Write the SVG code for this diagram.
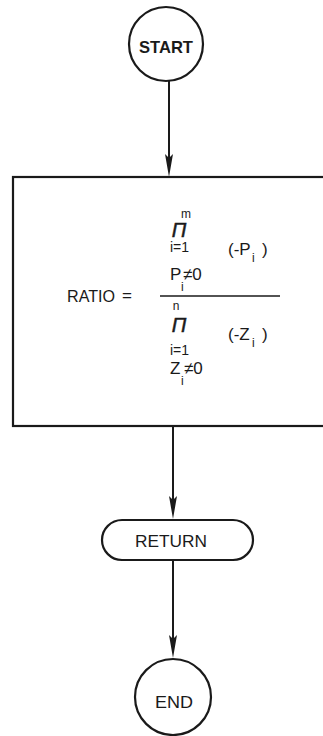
<svg xmlns="http://www.w3.org/2000/svg" width="323" height="736" viewBox="0 0 323 736">
<style>
.shape{fill:#fff;stroke:#1a1a1a;stroke-width:2.2}
.conn{fill:none;stroke:#1a1a1a;stroke-width:2}
.head{fill:#1a1a1a;stroke:none}
text{font-family:"Liberation Sans","DejaVu Sans",sans-serif;fill:#1a1a1a}
.lbl{font-size:17px;text-anchor:middle}
.f{font-size:17px}
.lim{font-size:14px}
.s{font-size:12px}
.pi{font-size:20px;font-style:italic}
</style>
<rect width="323" height="736" fill="#fff"/>
<g id="connectors">
<line class="conn" x1="169" y1="81" x2="169" y2="170"/>
<path class="head" d="M165,154 L169,177 L173,154 L169,158 Z"/>
<line class="conn" x1="173" y1="426" x2="173" y2="512"/>
<path class="head" d="M169,496 L173,519 L177,496 L173,500 Z"/>
<line class="conn" x1="173" y1="561" x2="173" y2="651"/>
<path class="head" d="M169,635 L173,658 L177,635 L173,639 Z"/>
</g>
<g id="start">
<circle class="shape" cx="166" cy="44" r="37"/>
<text class="lbl" x="166" y="53" font-weight="bold" font-size="18" textLength="54" lengthAdjust="spacingAndGlyphs">START</text>
</g>
<g id="ratio">
<rect class="shape" x="13" y="177" width="330" height="249"/>
<text class="f" x="67" y="302" textLength="48" lengthAdjust="spacingAndGlyphs">RATIO</text>
<text class="f" x="127" y="301" text-anchor="middle" fill="#555">=</text>
<line x1="160" y1="296" x2="280" y2="296" stroke="#1a1a1a" stroke-width="1.6"/>
<text class="s" x="186" y="218" text-anchor="middle">m</text>
<text class="pi" x="179" y="237" text-anchor="middle" stroke="#1a1a1a" stroke-width="0.5">Π</text>
<text class="lim" x="170" y="252">i=1</text>
<text class="f" x="170" y="280">P</text>
<text class="s" x="181" y="291">i</text>
<text class="f" x="183" y="280">≠0</text>
<text class="f" x="228" y="255">(-P</text>
<text class="s" x="252" y="262">i</text>
<text class="f" x="262" y="255">)</text>
<text class="s" x="176" y="310" text-anchor="middle">n</text>
<text class="pi" x="179" y="332" text-anchor="middle" stroke="#1a1a1a" stroke-width="0.5">Π</text>
<text class="lim" x="170" y="355">i=1</text>
<text class="f" x="170" y="374">Z</text>
<text class="s" x="181" y="385">i</text>
<text class="f" x="184" y="374">≠0</text>
<text class="f" x="228" y="340">(-Z</text>
<text class="s" x="252" y="347">i</text>
<text class="f" x="262" y="340">)</text>
</g>
<g id="return">
<rect class="shape" x="102" y="520" width="151" height="40" rx="20" ry="20"/>
<text class="lbl" x="171" y="547" textLength="72" lengthAdjust="spacingAndGlyphs">RETURN</text>
</g>
<g id="end">
<circle class="shape" cx="173" cy="697" r="38"/>
<text class="lbl" x="174" y="708" textLength="38" lengthAdjust="spacingAndGlyphs">END</text>
</g>
</svg>
